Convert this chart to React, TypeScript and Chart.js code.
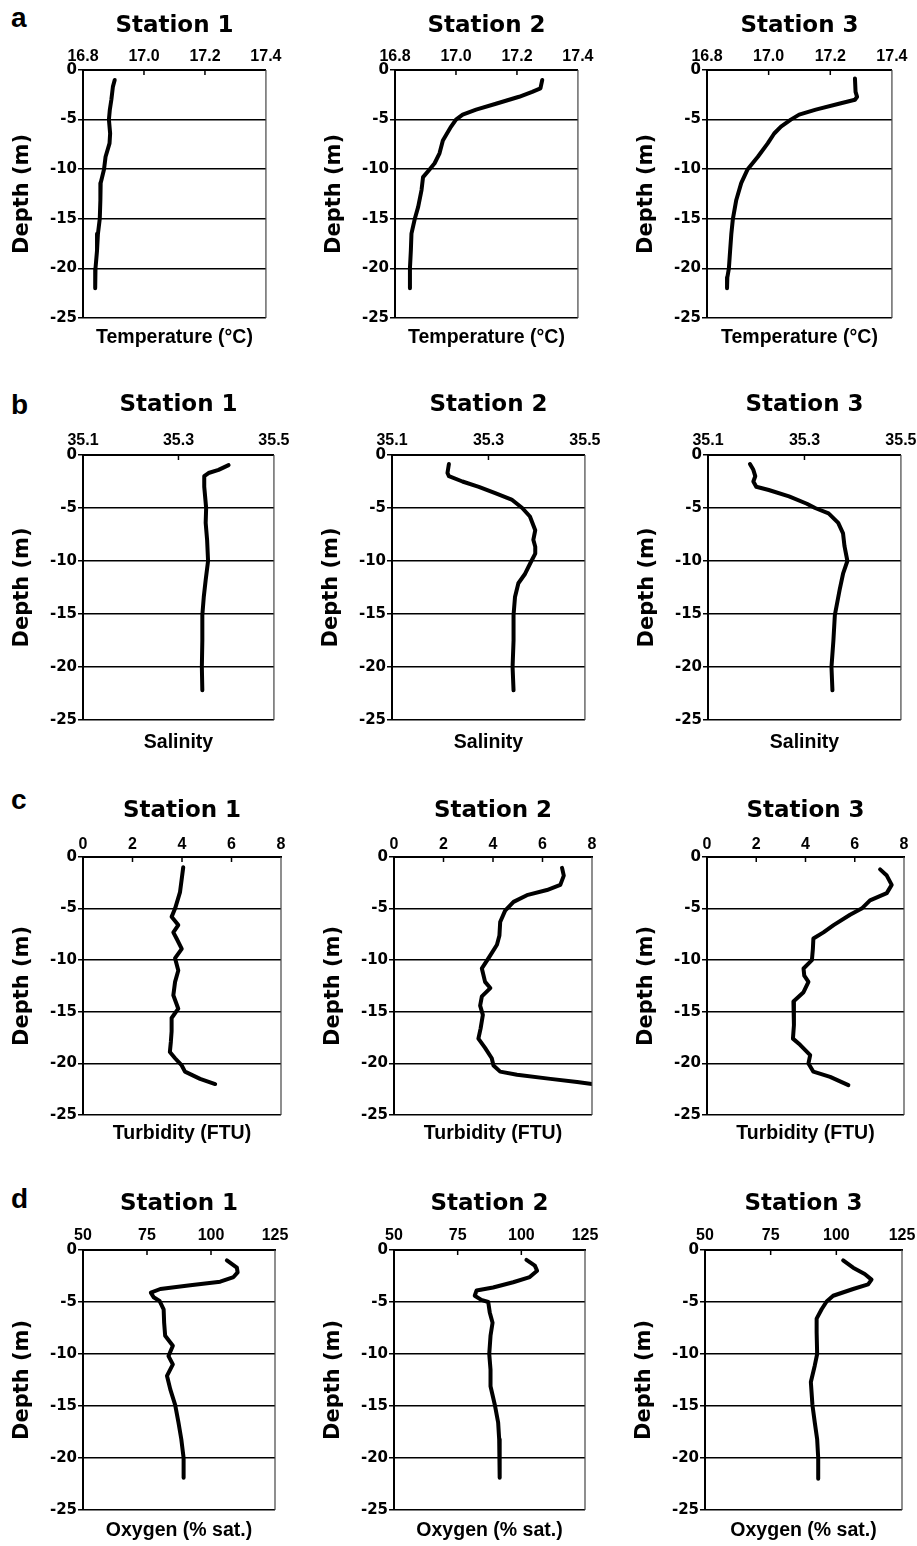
import React, { useEffect, useRef } from 'react';
import { Chart, registerables } from 'chart.js';

Chart.register(...registerables);

// ---------- DATA (depth in m) ----------
// a: Temperature (°C)
const tempDepth1 = [-1.0, -1.7, -3.0, -4.0, -5.0, -6.4, -7.4, -8.75, -10.0, -11.4, -13.1, -15.0, -16.5, -18.2, -20.0, -22.0];
const temp1 = [16.904, 16.898, 16.893, 16.888, 16.885, 16.889, 16.887, 16.874, 16.869, 16.858, 16.857, 16.855, 16.849, 16.846, 16.841, 16.84];
const tempDepth2 = [-1.0, -1.85, -2.2, -2.7, -3.4, -4.0, -4.5, -5.0, -5.7, -7.1, -8.4, -9.4, -10.0, -10.8, -12.1, -13.8, -15.0, -16.5, -18.2, -20.0, -22.0];
const temp2 = [17.283, 17.277, 17.25, 17.207, 17.131, 17.066, 17.022, 17.0, 16.984, 16.957, 16.946, 16.93, 16.914, 16.892, 16.887, 16.876, 16.865, 16.854, 16.852, 16.849, 16.849];
const tempDepth3 = [-0.85, -2.2, -2.7, -3.0, -3.4, -4.0, -4.5, -5.0, -5.7, -6.4, -7.4, -8.75, -10.0, -11.4, -13.1, -15.0, -16.5, -18.2, -20.0, -20.9, -22.0];
const temp3 = [17.28, 17.282, 17.287, 17.28, 17.228, 17.153, 17.099, 17.072, 17.04, 17.018, 16.997, 16.965, 16.932, 16.911, 16.895, 16.884, 16.879, 16.875, 16.871, 16.866, 16.865];

// b: Salinity
const salDepth1 = [-0.95, -1.4, -1.7, -2.0, -3.0, -5.0, -6.4, -8.0, -10.0, -11.8, -13.4, -15.1, -17.5, -20.0, -22.2];
const sal1 = [35.405, 35.384, 35.363, 35.354, 35.354, 35.358, 35.357, 35.36, 35.362, 35.357, 35.353, 35.35, 35.35, 35.349, 35.35];
const salDepth2 = [-0.85, -1.7, -2.0, -2.5, -3.0, -3.6, -4.2, -5.0, -5.8, -7.1, -8.0, -8.65, -9.3, -10.0, -11.2, -12.1, -13.4, -15.1, -17.5, -20.0, -22.2];
const sal2 = [35.218, 35.215, 35.218, 35.246, 35.28, 35.314, 35.348, 35.37, 35.386, 35.397, 35.393, 35.397, 35.397, 35.389, 35.376, 35.362, 35.355, 35.352, 35.352, 35.35, 35.352];
const salDepth3 = [-0.85, -1.4, -2.0, -2.5, -3.0, -3.3, -3.9, -4.6, -5.0, -5.5, -6.4, -7.4, -8.6, -10.0, -11.2, -12.7, -15.1, -17.5, -20.0, -22.2];
const sal3 = [35.187, 35.194, 35.198, 35.194, 35.2, 35.226, 35.268, 35.305, 35.322, 35.35, 35.37, 35.38, 35.383, 35.389, 35.38, 35.373, 35.363, 35.36, 35.356, 35.358];

// c: Turbidity (FTU)
const turbDepth1 = [-1.0, -2.1, -3.4, -5.0, -5.8, -6.6, -7.3, -7.9, -8.9, -9.8, -11.0, -12.1, -13.4, -14.7, -15.6, -16.9, -17.9, -18.9, -19.5, -20.2, -20.8, -21.5, -22.0];
const turb1 = [4.05, 3.99, 3.92, 3.72, 3.58, 3.85, 3.65, 3.78, 3.99, 3.72, 3.85, 3.72, 3.65, 3.85, 3.58, 3.58, 3.55, 3.51, 3.72, 3.99, 4.12, 4.73, 5.34];
const turbDepth2 = [-1.05, -1.8, -2.7, -3.2, -3.7, -4.35, -5.2, -6.3, -7.6, -8.5, -9.8, -10.8, -12.1, -12.7, -13.5, -14.4, -15.3, -16.6, -17.6, -18.5, -19.5, -20.2, -20.8, -21.1, -21.5, -21.8, -22.0];
const turb2 = [6.79, 6.86, 6.72, 6.18, 5.37, 4.83, 4.49, 4.29, 4.26, 4.16, 3.82, 3.55, 3.68, 3.89, 3.55, 3.48, 3.59, 3.5, 3.41, 3.68, 3.95, 4.02, 4.29, 4.97, 6.32, 7.4, 8.0];
const turbDepth3 = [-1.2, -1.8, -2.7, -3.5, -4.2, -5.0, -5.6, -6.6, -7.3, -7.9, -8.9, -10.0, -10.8, -11.5, -12.1, -13.1, -14.0, -15.1, -16.3, -17.6, -18.2, -19.2, -20.0, -20.8, -21.3, -22.1];
const turb3 = [7.03, 7.3, 7.5, 7.3, 6.62, 6.28, 5.81, 5.14, 4.73, 4.32, 4.3, 4.26, 3.92, 3.95, 4.12, 3.92, 3.51, 3.53, 3.53, 3.49, 3.78, 4.19, 4.12, 4.32, 5.0, 5.74];

// d: Oxygen (% sat.)
const oxyDepth1 = [-1.0, -1.7, -2.15, -2.6, -3.05, -3.4, -3.75, -4.1, -4.55, -4.9, -5.7, -7.0, -8.25, -9.2, -10.2, -11.0, -12.1, -13.4, -14.9, -16.6, -18.2, -20.0, -21.9];
const oxy1 = [106.2, 110.1, 110.4, 108.8, 103.6, 91.9, 80.2, 76.5, 77.6, 79.9, 81.5, 81.7, 82.1, 85.1, 83.4, 85.1, 82.8, 84.1, 86.0, 87.3, 88.4, 89.3, 89.3];
const oxyDepth2 = [-0.95, -1.5, -2.0, -2.6, -3.1, -3.6, -3.9, -4.4, -4.8, -5.0, -6.0, -7.0, -8.25, -10.0, -11.5, -13.1, -14.9, -16.6, -18.2, -20.0, -21.9];
const oxy2 = [102.0, 105.3, 106.2, 103.3, 96.8, 88.9, 82.4, 81.7, 84.3, 87.0, 87.6, 88.7, 87.9, 87.4, 87.9, 87.9, 89.6, 90.9, 91.3, 91.5, 91.5];
const oxyDepth3 = [-1.0, -1.7, -2.3, -2.85, -3.3, -3.75, -4.4, -4.95, -5.7, -6.6, -7.9, -10.0, -11.1, -12.7, -14.9, -16.6, -18.2, -20.0, -22.0];
const oxy3 = [102.6, 106.4, 110.8, 113.4, 112.1, 106.4, 98.8, 96.3, 94.4, 92.5, 92.5, 92.7, 91.8, 90.3, 90.9, 91.8, 92.7, 93.1, 93.1];

const panelLetters = ['a', 'b', 'c', 'd'];
const stationNames = ['Station 1', 'Station 2', 'Station 3'];
const xAxisTitles = ['Temperature (°C)', 'Salinity', 'Turbidity (FTU)', 'Oxygen (% sat.)'];
const xMins = [16.8, 35.1, 0, 50];
const xMaxs = [17.4, 35.5, 8, 125];
const xSteps = [0.2, 0.2, 2, 25];
const xDecimals = [1, 1, 0, 0];
const depthMin = -25;
const depthMax = 0;
const depthStep = 5;
const depthTitle = 'Depth (m)';

const SERIES: [number[], number[]][][] = [
  [[tempDepth1, temp1], [tempDepth2, temp2], [tempDepth3, temp3]],
  [[salDepth1, sal1], [salDepth2, sal2], [salDepth3, sal3]],
  [[turbDepth1, turb1], [turbDepth2, turb2], [turbDepth3, turb3]],
  [[oxyDepth1, oxy1], [oxyDepth2, oxy2], [oxyDepth3, oxy3]],
];

// ---------- LAYOUT ----------
const ROW_TOP = [70, 455, 857, 1250];
const ROW_BOTTOM = [318, 720, 1115, 1510];
const AREA_LEFT = [[83, 395, 707], [83, 392, 708], [83, 394, 707], [83, 394, 705]];
const AREA_RIGHT = [[267, 579, 893], [276, 587, 903], [281, 592, 904], [275, 585, 902]];
const TITLE_PAD = [15, 9, 13, 12.5];
const XLAB_PAD = [5.5, 6.5, 4.5, 6.5];
const SUB_PAD = [10, 13, 9, 11];
const LETTER_TOP = [4, 391, 786, 1185];
const Y_AXIS_W = 83;
const TOP_H = 70;
const RIGHT_PAD = 20;
const SUB_PAD_BOTTOM = 1;
const TITLE_SIZE = 23;
const SUB_SIZE = 19.5;

const SANS = "'Liberation Sans', Arial, Helvetica, sans-serif";
const WIDE = "'DejaVu Sans', 'Liberation Sans', sans-serif";

const framePlugin = {
  id: 'frame',
  afterDraw(chart: any) {
    const { ctx, chartArea: a, scales } = chart;
    const x = scales.x;
    ctx.save();
    ctx.strokeStyle = '#444';
    ctx.lineWidth = 1.2;
    ctx.beginPath();
    ctx.moveTo(a.right, a.top);
    ctx.lineTo(a.right, a.bottom);
    ctx.stroke();
    ctx.strokeStyle = '#000';
    ctx.lineWidth = 1.5;
    ctx.beginPath();
    x.ticks.forEach((t: any, i: number) => {
      if (i === 0 || i === x.ticks.length - 1) return;
      const px = x.getPixelForValue(t.value);
      ctx.moveTo(px, a.top);
      ctx.lineTo(px, a.top + 5);
    });
    ctx.stroke();
    ctx.restore();
  },
};

function Panel({ row, col }: { row: number; col: number }) {
  const ref = useRef<HTMLCanvasElement>(null);
  const left = AREA_LEFT[row][col] - Y_AXIS_W;
  const top = ROW_TOP[row] - TOP_H;
  const areaW = AREA_RIGHT[row][col] - AREA_LEFT[row][col];
  const areaH = ROW_BOTTOM[row] - ROW_TOP[row];
  const subH = SUB_PAD[row] + SUB_SIZE + SUB_PAD_BOTTOM;
  const width = Y_AXIS_W + areaW + RIGHT_PAD;
  const height = Math.ceil(TOP_H + areaH + subH);

  useEffect(() => {
    if (!ref.current) return;
    const [depths, values] = SERIES[row][col];
    const titleBoxH = TITLE_PAD[row] + TITLE_SIZE;
    const chart = new Chart(ref.current, {
      type: 'scatter',
      data: {
        datasets: [
          {
            data: depths.map((d, i) => ({ x: values[i], y: d })),
            showLine: true,
            borderColor: '#000',
            backgroundColor: '#000',
            borderWidth: 4,
            pointRadius: 0,
            borderJoinStyle: 'round',
            borderCapStyle: 'round',
            tension: 0,
          } as any,
        ],
      },
      options: {
        responsive: false,
        animation: false,
        events: [],
        layout: { padding: { left: 0, right: RIGHT_PAD, top: 0, bottom: height - (TOP_H + areaH + subH) } },
        plugins: {
          legend: { display: false },
          tooltip: { enabled: false },
          title: {
            display: true,
            text: stationNames[col],
            fullSize: false,
            color: '#000',
            font: { family: WIDE, size: TITLE_SIZE, weight: 'bold', lineHeight: 1 },
            padding: { top: TITLE_PAD[row], bottom: 0 },
          },
          subtitle: {
            display: true,
            position: 'bottom',
            text: xAxisTitles[row],
            fullSize: false,
            color: '#000',
            font: { family: SANS, size: SUB_SIZE, weight: 'bold', lineHeight: 1 },
            padding: { top: SUB_PAD[row], bottom: SUB_PAD_BOTTOM },
          },
        },
        scales: {
          x: {
            type: 'linear',
            position: 'top',
            min: xMins[row],
            max: xMaxs[row],
            afterFit: (s: any) => {
              s.height = TOP_H - titleBoxH;
            },
            ticks: {
              stepSize: xSteps[row],
              autoSkip: false,
              maxRotation: 0,
              color: '#000',
              padding: XLAB_PAD[row],
              font: { family: SANS, size: 16, weight: 'bold', lineHeight: 1 },
              callback: (v: any) => Number(v).toFixed(xDecimals[row]),
            },
            grid: { display: false, drawTicks: false },
            border: { display: true, color: '#000', width: 2 },
          },
          y: {
            type: 'linear',
            min: depthMin,
            max: depthMax,
            afterFit: (s: any) => {
              s.width = Y_AXIS_W;
            },
            ticks: {
              stepSize: depthStep,
              color: '#000',
              padding: 1,
              font: { family: WIDE, size: 15, weight: 'bold', lineHeight: 1 },
            },
            grid: { color: '#000', lineWidth: 1.5, drawTicks: true, tickLength: 5 },
            border: { display: true, color: '#000', width: 2 },
            title: {
              display: true,
              text: depthTitle,
              color: '#000',
              font: { family: WIDE, size: 21, weight: 'bold', lineHeight: 1 },
              padding: { top: 12, bottom: 0 },
            },
          },
        },
      } as any,
      plugins: [framePlugin],
    });
    return () => chart.destroy();
  }, [row, col]);

  return (
    <canvas
      ref={ref}
      width={width}
      height={height}
      style={{ position: 'absolute', left, top, width, height }}
    />
  );
}

export default function App() {
  return (
    <div
      style={{
        position: 'absolute',
        left: 0,
        top: 0,
        width: 917,
        height: 1546,
        overflow: 'hidden',
        background: '#fff',
      }}
    >
      {panelLetters.map((letter, r) => (
        <div
          key={letter}
          style={{
            position: 'absolute',
            left: 11,
            top: LETTER_TOP[r],
            fontFamily: SANS,
            fontWeight: 'bold',
            fontSize: 28,
            lineHeight: '28px',
            color: '#000',
          }}
        >
          {letter}
        </div>
      ))}
      {SERIES.map((rowSeries, r) =>
        rowSeries.map((_, c) => <Panel key={`${r}-${c}`} row={r} col={c} />)
      )}
    </div>
  );
}
